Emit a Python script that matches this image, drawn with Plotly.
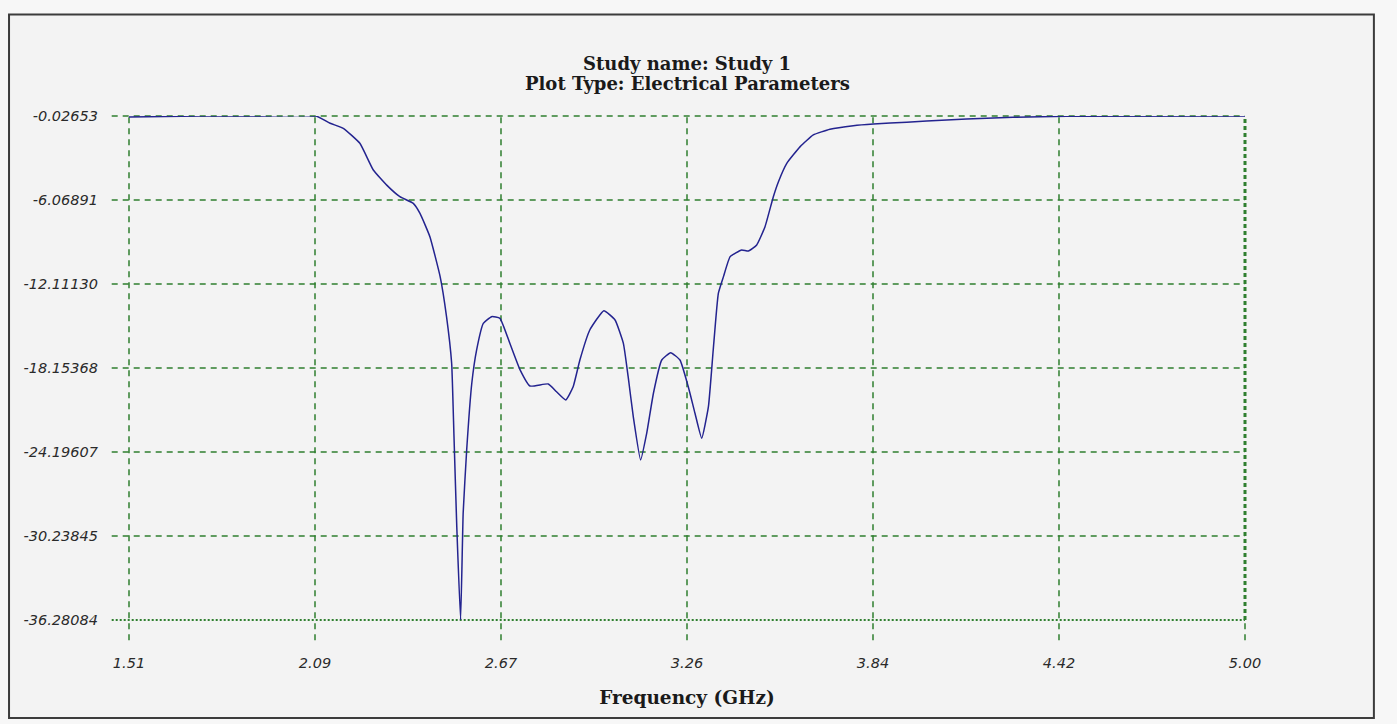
import plotly.graph_objects as go

# ---- data ----
freq_ghz = [1.510, 1.732, 1.888, 2.095, 2.139, 2.180, 2.232, 2.274, 2.316, 2.357,
            2.399, 2.420, 2.451, 2.483, 2.503, 2.519, 2.526, 2.535, 2.547, 2.555,
            2.566, 2.582, 2.597, 2.618, 2.644, 2.670, 2.701, 2.733, 2.764, 2.821,
            2.847, 2.876, 2.899, 2.920, 2.951, 2.995, 3.030, 3.056, 3.071, 3.087,
            3.110, 3.129, 3.150, 3.176, 3.204, 3.233, 3.259, 3.280, 3.301, 3.322,
            3.337, 3.353, 3.369, 3.390, 3.426, 3.447, 3.473, 3.499, 3.525, 3.541,
            3.567, 3.609, 3.650, 3.702, 3.775, 3.838, 3.942, 4.067, 4.192, 4.274,
            4.443, 5.000]
s11_db = [-0.10, -0.03, -0.03, -0.03, -0.55, -0.91, -1.99, -3.91, -5.00, -5.83,
          -6.31, -7.03, -8.71, -11.58, -14.46, -17.81, -22.85, -29.56, -36.28, -28.60,
          -24.05, -19.25, -16.86, -14.94, -14.46, -14.58, -16.38, -18.29, -19.45, -19.30,
          -19.86, -20.45, -19.50, -17.58, -15.42, -14.03, -14.70, -16.38, -18.78, -21.65,
          -24.77, -22.85, -19.97, -17.58, -17.05, -17.58, -19.50, -21.41, -23.21, -20.94,
          -16.86, -12.78, -11.58, -10.14, -9.66, -9.74, -9.30, -7.99, -5.83, -4.75,
          -3.43, -2.23, -1.39, -0.98, -0.72, -0.60, -0.48, -0.31, -0.19, -0.12,
          -0.05, -0.03]

x_tick_vals = [1.51, 2.091667, 2.673333, 3.255, 3.836667, 4.418333, 5.00]
x_tick_text = ["1.51", "2.09", "2.67", "3.26", "3.84", "4.42", "5.00"]
y_tick_vals = [-0.02653, -6.06891, -12.11130, -18.15368, -24.19607, -30.23845, -36.28084]
y_tick_text = ["-0.02653", "-6.06891", "-12.11130", "-18.15368", "-24.19607", "-30.23845", "-36.28084"]

title_lines = ["Study name: Study 1", "Plot Type: Electrical Parameters"]
x_title = "Frequency (GHz)"

# ---- styling ----
BG = "#f3f3f3"
GRID = "#2f7f2f"
LINE = "#23238f"
TICKFONT = "DejaVu Sans"
TSERIF = "DejaVu Serif"

X0, X1 = x_tick_vals[0], x_tick_vals[-1]
Y0, Y1 = y_tick_vals[-1], y_tick_vals[0]

def xp(v):
    return (v - X0) / (X1 - X0)

def yp(v):
    return (v - Y0) / (Y1 - Y0)

fig = go.Figure()
fig.add_trace(go.Scatter(x=freq_ghz, y=s11_db, mode="lines",
                         line=dict(color=LINE, width=1.5, shape="spline", smoothing=0.4),
                         hoverinfo="x+y", showlegend=False, cliponaxis=False))

shapes = []
# outer frame
shapes.append(dict(type="rect", xref="paper", yref="paper",
                   x0=-0.1075, x1=1.1155, y0=-0.1945, y1=1.2015,
                   line=dict(color="#3c3c3c", width=2), fillcolor=BG, layer="below"))
# vertical grid lines (extending below plot area)
for i, xv in enumerate(x_tick_vals):
    p = xp(xv)
    last = i == len(x_tick_vals) - 1
    if last:
        shapes.append(dict(type="line", xref="paper", yref="paper", x0=p, x1=p, y0=0, y1=1,
                           line=dict(color=GRID, width=3, dash="4px,3px"), layer="below"))
        shapes.append(dict(type="line", xref="paper", yref="paper", x0=p, x1=p, y0=-0.04, y1=0,
                           line=dict(color=GRID, width=1.5, dash="6px,5px"), layer="below"))
    else:
        shapes.append(dict(type="line", xref="paper", yref="paper", x0=p, x1=p, y0=-0.04, y1=1,
                           line=dict(color=GRID, width=1.5, dash="6px,5px"), layer="below"))
# horizontal grid lines (extending left of plot area)
for j, yv in enumerate(y_tick_vals):
    p = yp(yv)
    last = j == len(y_tick_vals) - 1
    shapes.append(dict(type="line", xref="paper", yref="paper", x0=-0.0155, x1=1, y0=p, y1=p,
                       line=dict(color=GRID, width=2 if last else 1.5,
                                 dash="2px,2px" if last else "6px,5px"),
                       layer="below"))

annotations = []
for k, line_text in enumerate(title_lines):
    annotations.append(dict(text="<b>%s</b>" % line_text, xref="paper", yref="paper",
                            x=0.5, y=1 + (52 - 19 * k) / 504, xanchor="center", yanchor="middle",
                            showarrow=False,
                            font=dict(family=TSERIF, size=18, color="#1a1a1a")))

fig.update_layout(
    width=1397, height=724,
    margin=dict(l=129, r=152, t=116, b=104),
    paper_bgcolor="#f7f7f7", plot_bgcolor="rgba(0,0,0,0)",
    shapes=shapes, annotations=annotations,
    xaxis=dict(range=[X0, X1], showgrid=False, zeroline=False, showline=False,
               tickvals=x_tick_vals, ticktext=x_tick_text, ticks="",
               ticklabelstandoff=32,
               tickfont=dict(family=TICKFONT, size=14.5, color="#2a2a2a", style="italic"),
               title=dict(text="<b>%s</b>" % x_title, standoff=21,
                          font=dict(family=TSERIF, size=18.5, color="#1a1a1a"))),
    yaxis=dict(range=[Y0, Y1], showgrid=False, zeroline=False, showline=False,
               tickvals=y_tick_vals, ticktext=y_tick_text, ticks="",
               ticklabelstandoff=30,
               tickfont=dict(family=TICKFONT, size=14.5, color="#2a2a2a", style="italic")),
)

fig.write_html("out.html", config={"displayModeBar": False},
               post_script="document.body.style.margin='0';")
